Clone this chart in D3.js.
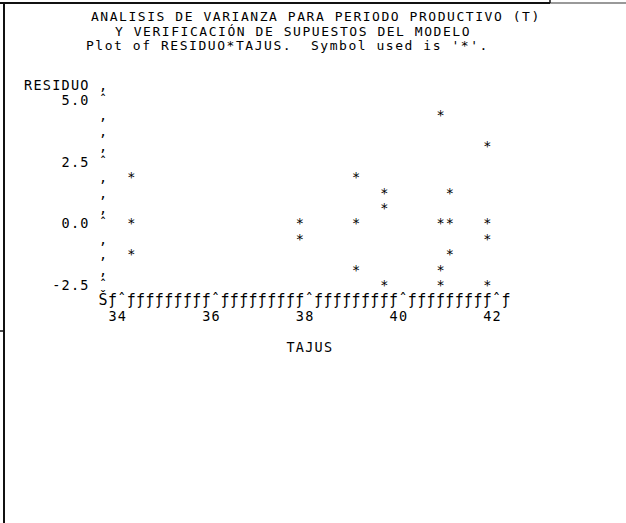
<!DOCTYPE html>
<html>
<head>
<meta charset="utf-8">
<script src="https://cdn.jsdelivr.net/npm/d3@7"></script>
<style>
  body { margin: 0; background: #fff; }
  text { font-family: "DejaVu Sans Mono", monospace; font-size: 13.5px; fill: #000; white-space: pre; }
  text.xaxis { font-size: 15px; }
  text.title { font-size: 13px; }
</style>
</head>
<body>
<svg id="canvas"></svg>
<script>
// titles of the SAS listing
let titles = [
  "ANALISIS DE VARIANZA PARA PERIODO PRODUCTIVO (T)",
  "Y VERIFICACIÓN DE SUPUESTOS DEL MODELO",
  "Plot of RESIDUO*TAJUS.  Symbol used is '*'."
];

// data
let tajus = [34.2, 34.2, 34.2, 37.8, 37.8, 39.0, 39.0, 39.0, 39.6, 39.6, 39.6,
             40.8, 40.8, 40.8, 40.8, 41.0, 41.0, 41.0, 41.8, 41.8, 41.8, 41.8];
let residuo = [1.9, 0.0, -1.3, 0.0, -0.6, 1.9, 0.0, -1.9, 1.2, 0.6, -2.5,
               4.4, 0.0, -1.9, -2.5, 1.2, 0.0, -1.3, 3.1, 0.0, -0.6, -2.5];

let xTicks = [34, 36, 38, 40, 42];
let xTickLabels = ["34", "36", "38", "40", "42"];
let yTicks = [5.0, 2.5, 0.0, -2.5];
let yTickLabels = ["5.0", "2.5", "0.0", "-2.5"];

let xLabel = "TAJUS";
let yLabel = "RESIDUO";

let width = 626,
  height = 523,
  fontSize = 13.5,
  adv = fontSize * 0.602, // DejaVu Sans Mono advance
  cw = 9.37, // character cell width of the listing
  lh = 15.42; // printer line height

let spacing = (cw - adv) + "px";

let canvas = d3.select("#canvas").attr("width", width).attr("height", height);

// character grid -> pixels (glyph centred in its cell)
let x0 = 23.5 + (cw - adv) / 2;
let colX = d3.scaleLinear().domain([0, 1]).range([x0, x0 + cw]);
let rowY = d3.scaleLinear().domain([0, 1]).range([105, 105 + lh]); // baselines

// data -> grid cells (line printer resolution)
let xScale = d3.scaleLinear().domain([34, 42]).range([10, 50]);
let yScale = d3.scaleLinear().domain([5, -2.5]).range([0, 12]);

let axisCol = 8;
let lastCol = 51;
let axisRow = 13;

let putText = (str, col, row) => {
  canvas
    .append("text")
    .attr("x", colX(col))
    .attr("y", rowY(row))
    .style("letter-spacing", spacing)
    .text(str);
};

// frame lines of the document cell
canvas.append("line").attr("x1", 0).attr("x2", 550).attr("y1", 3).attr("y2", 3)
  .attr("stroke", "#111").attr("stroke-width", 2);
canvas.append("line").attr("x1", 550).attr("x2", width).attr("y1", 3).attr("y2", 3)
  .attr("stroke", "#777").attr("stroke-width", 1.5);
canvas.append("line").attr("x1", 550).attr("x2", 550).attr("y1", 0).attr("y2", 3)
  .attr("stroke", "#111").attr("stroke-width", 1.5);
canvas.append("line").attr("x1", 4).attr("x2", 4).attr("y1", 2).attr("y2", height)
  .attr("stroke", "#111").attr("stroke-width", 2);
canvas.append("line").attr("x1", 0).attr("x2", 4).attr("y1", 331).attr("y2", 331)
  .attr("stroke", "#111").attr("stroke-width", 1.5);

// titles
let titleX = [91, 115, 86];
let titleY = [21, 35.5, 50];
titles.forEach((t, i) => {
  canvas
    .append("text")
    .attr("class", "title")
    .attr("x", titleX[i])
    .attr("y", titleY[i])
    .style("letter-spacing", (cw - 13 * 0.602) + "px")
    .text(t);
});

// y axis column
let tickRows = yTicks.map((v) => Math.round(yScale(v)));
let yRows = d3.range(-1, axisRow);
canvas
  .selectAll("text.yaxis")
  .data(yRows)
  .enter()
  .append("text")
  .attr("class", "yaxis")
  .attr("x", colX(axisCol))
  .attr("y", (r) => rowY(r))
  .text((r) => (tickRows.includes(r) ? "ˆ" : "‚"));

// y label and tick labels (right aligned)
putText(yLabel, 0, -1);
yTicks.forEach((v, i) => {
  let lab = yTickLabels[i];
  putText(lab, axisCol - 1 - lab.length, Math.round(yScale(v)));
});

// x axis row
let xTickCols = xTicks.map((v) => Math.round(xScale(v)));
let xCols = d3.range(axisCol, lastCol + 1);
canvas
  .selectAll("text.xaxis")
  .data(xCols)
  .enter()
  .append("text")
  .attr("class", "xaxis")
  .attr("x", (c) => colX(c) - 0.5)
  .attr("y", rowY(axisRow))
  .text((c) => (c === axisCol ? "Š" : xTickCols.includes(c) ? "ˆ" : "ƒ"));

// x tick labels, ending at the tick column
xTicks.forEach((v, i) => {
  let lab = xTickLabels[i];
  putText(lab, Math.round(xScale(v)) - lab.length + 1, axisRow + 1);
});

putText(xLabel, 28, axisRow + 3);

// points
canvas
  .selectAll("text.pt")
  .data(tajus.map((t, i) => ({ x: t, y: residuo[i] })))
  .enter()
  .append("text")
  .attr("class", "pt")
  .attr("x", (d) => colX(Math.round(xScale(d.x))))
  .attr("y", (d) => rowY(Math.round(yScale(d.y))))
  .text("*");
</script>
</body>
</html>
